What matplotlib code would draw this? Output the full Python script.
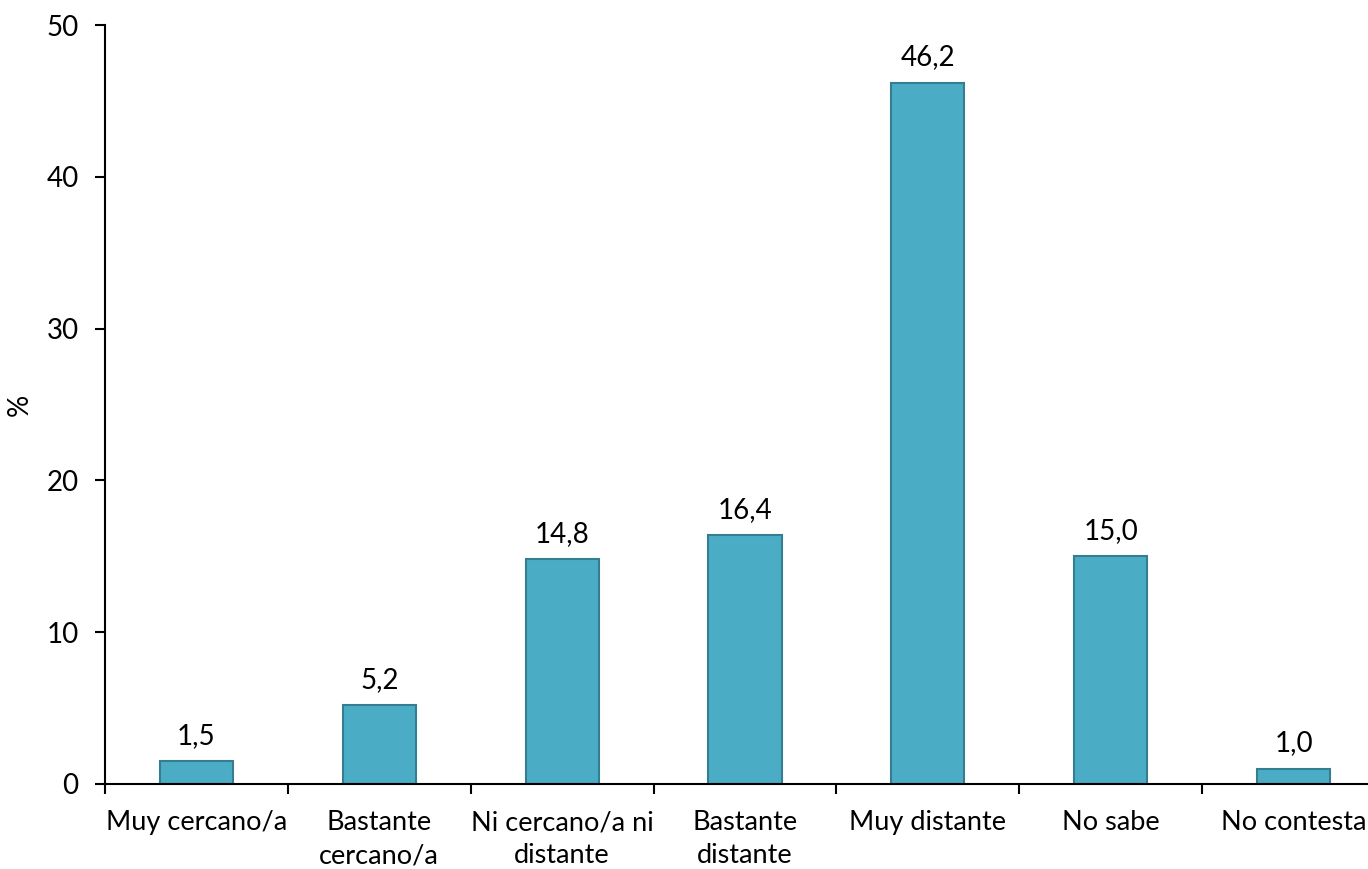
import numpy as np
import matplotlib.pyplot as plt

categories = ['Muy cercano/a', 'Bastante\ncercano/a', 'Ni cercano/a ni\ndistante',
              'Bastante\ndistante', 'Muy distante', 'No sabe', 'No contesta']
values = [1.5, 5.2, 14.8, 16.4, 46.2, 15.0, 1.0]

plt.rcParams['font.family'] = ['Lato', 'DejaVu Sans']

fig = plt.figure(figsize=(13.68, 8.69), dpi=100)
ax = fig.add_axes([105 / 1368, 85 / 869, 1280 / 1368, 759 / 869])

x = np.arange(len(categories))
ax.bar(x, values, width=0.4, color='#4BACC6', edgecolor='#357D91', linewidth=1.5, zorder=2)

for xi, v in zip(x, values):
    ax.annotate(f'{v:.1f}'.replace('.', ','), (xi, v), xytext=(0, 9),
                textcoords='offset points', ha='center', va='bottom', fontsize=20)

ax.set_xlim(-0.5, len(categories) - 0.5)
ax.set_ylim(0, 50)
ax.set_yticks([0, 10, 20, 30, 40, 50])
ax.set_xticks(x)
ax.set_xticklabels(categories, fontsize=19.5, linespacing=1.4)
ax.set_xticks(np.arange(-0.5, len(categories) - 0.5, 1), minor=True)
ax.tick_params(axis='x', which='major', length=0, pad=19)
ax.tick_params(axis='x', which='minor', length=7, width=1.5, direction='out')
ax.tick_params(axis='y', labelsize=20, length=7, width=1.5, pad=12)
ax.set_ylabel('%', fontsize=20, labelpad=10)

for side in ['top', 'right']:
    ax.spines[side].set_visible(False)
for side in ['left', 'bottom']:
    ax.spines[side].set_linewidth(1.5)

fig.savefig('out.png', dpi=100)
